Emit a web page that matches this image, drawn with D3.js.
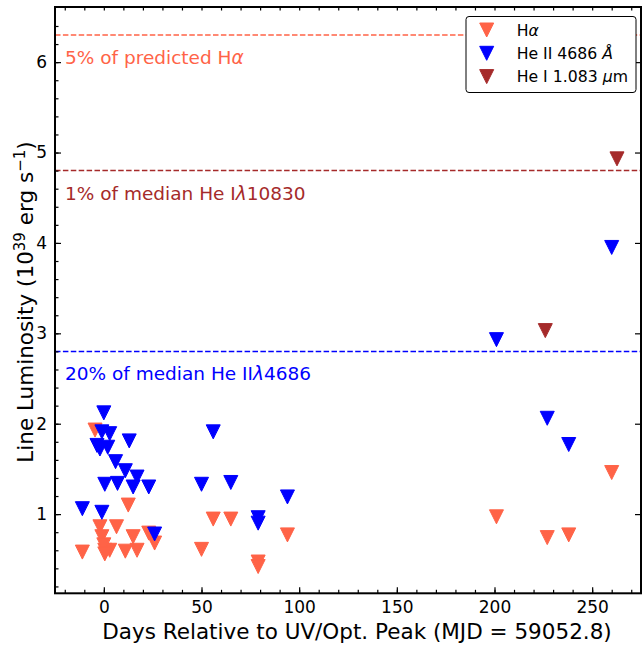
<!DOCTYPE html>
<html><head><meta charset="utf-8">
<script src="https://cdn.jsdelivr.net/npm/d3@7"></script>
<style>body{margin:0;background:#fff;} svg{display:block;font-family:"DejaVu Sans";}</style>
</head><body>
<svg id="c" width="642" height="645"></svg>
<script>
// Data
const haDays = [-4.5, 12.5, -2, 6.5, -1, 15, 23, 26, -11, 0.5, 3, 11, 17, 0, 0.5, 56, 65, 50, 79, 79, 94, 201, 227, 238, 260];
const haLum  = [1.93, 1.10, 0.86, 0.86, 0.75, 0.75, 0.79, 0.68, 0.58, 0.60, 0.60, 0.59, 0.60, 0.66, 0.56, 0.945, 0.945, 0.61, 0.47, 0.42, 0.77, 0.97, 0.74, 0.77, 1.46];
const he2Days = [0, -1, 3, 13, -3.5, 2, -2, 6, 11, 17, 0.5, 7, 15, 23, -11, -1, 26, 56, 50, 65, 94, 79, 79, 201, 227, 238, 260];
const he2Lum  = [2.12, 1.91, 1.89, 1.81, 1.76, 1.74, 1.72, 1.58, 1.48, 1.41, 1.33, 1.34, 1.30, 1.30, 1.06, 1.02, 0.78, 1.91, 1.33, 1.35, 1.19, 0.96, 0.90, 2.93, 2.06, 1.77, 3.95];
const he1Days = [226, 262.7];
const he1Lum  = [3.03, 4.93];
const refLines = [6.30, 4.80, 2.80];
const xTicks = [0, 50, 100, 150, 200, 250];
const yTicks = [1, 2, 3, 4, 5, 6];
const colors = {ha: "#FF6347", he2: "#0000FF", he1: "#A52A2A"};

const svg = d3.select("#c");
const L = 55, R = 641, T = 7, B = 593.3;
const x = d3.scaleLinear().domain([-25, 275]).range([L, R]);
const y = d3.scaleLinear().domain([0.124, 6.61]).range([B, T]);

// reference lines
const refCols = [colors.ha, colors.he1, colors.he2];
refLines.forEach((v, i) => {
  svg.append("line").attr("x1", L).attr("x2", R).attr("y1", y(v)).attr("y2", y(v))
    .attr("stroke", refCols[i]).attr("stroke-width", 1.5).attr("stroke-dasharray", "5.5,2.4");
});
// reference labels
const lab = [
  {t: "5% of predicted H", it: "α", tail: ""},
  {t: "1% of median He I", it: "λ", tail: "10830"},
  {t: "20% of median He II", it: "λ", tail: "4686"}
];
lab.forEach((o, i) => {
  const tx = svg.append("text").attr("x", 65).attr("y", y(refLines[i]) + 29)
    .attr("fill", refCols[i]).attr("font-size", 18.5);
  tx.append("tspan").text(o.t);
  tx.append("tspan").attr("font-style", "italic").text(o.it);
  if (o.tail) tx.append("tspan").text(o.tail);
});

// markers
const tri = d3.symbol().type({draw(ctx, s){ const h = 7; ctx.moveTo(-h, -h); ctx.lineTo(h, -h); ctx.lineTo(0, h); ctx.closePath(); }});
function drawSeries(xs, ys, col) {
  svg.append("g").selectAll("path").data(xs.map((d, i) => [d, ys[i]])).join("path")
    .attr("d", tri()).attr("transform", d => `translate(${x(d[0])},${y(d[1])})`)
    .attr("fill", col).attr("stroke", col).attr("stroke-width", 1);
}
drawSeries(haDays, haLum, colors.ha);
drawSeries(he2Days, he2Lum, colors.he2);
drawSeries(he1Days, he1Lum, colors.he1);

// axes
const ax = svg.append("g");
const bottom = d3.axisBottom(x).tickValues(xTicks).tickSize(-6).tickPadding(8).tickFormat(d3.format("d"));
ax.append("g").attr("transform", `translate(0,${B})`).call(bottom);
const bottomMinor = d3.axisBottom(x).tickValues(d3.range(-20, 275, 10)).tickSize(-3.5).tickFormat("");
ax.append("g").attr("transform", `translate(0,${B})`).call(bottomMinor);
const topMinor = d3.axisTop(x).tickValues(d3.range(-20, 275, 10)).tickSize(-3.5).tickFormat("");
ax.append("g").attr("transform", `translate(0,${T})`).call(topMinor);
const left = d3.axisLeft(y).tickValues(yTicks).tickSize(-6).tickPadding(8).tickFormat(d3.format("d"));
ax.append("g").attr("transform", `translate(${L},0)`).call(left);
const leftMinor = d3.axisLeft(y).tickValues(d3.range(0.2, 6.6, 0.2)).tickSize(-3.5).tickFormat("");
ax.append("g").attr("transform", `translate(${L},0)`).call(leftMinor);
const right = d3.axisRight(y).tickValues(yTicks).tickSize(-6).tickFormat("");
ax.append("g").attr("transform", `translate(${R},0)`).call(right);
ax.selectAll(".domain").remove();
ax.selectAll(".tick line").attr("stroke", "#000").attr("stroke-width", 1.2);
ax.selectAll(".tick text").attr("fill", "#000").attr("font-family", "DejaVu Sans").attr("font-size", 17);
svg.append("rect").attr("x", L).attr("y", T).attr("width", R - L).attr("height", B - T)
  .attr("fill", "none").attr("stroke", "#000").attr("stroke-width", 2);

// axis labels
svg.append("text").attr("x", 357).attr("y", 639).attr("text-anchor", "middle").attr("font-size", 21.5)
  .text("Days Relative to UV/Opt. Peak (MJD = 59052.8)");
const yl = svg.append("text").attr("transform", "translate(33,302) rotate(-90)").attr("text-anchor", "middle").attr("font-size", 21.5);
yl.append("tspan").text("Line Luminosity (10");
yl.append("tspan").attr("dy", -8).attr("font-size", 15).text("39");
yl.append("tspan").attr("dy", 8).text(" erg s");
yl.append("tspan").attr("dy", -8).attr("font-size", 15).text("−1");
yl.append("tspan").attr("dy", 8).text(")");

// legend
const lg = svg.append("g");
lg.append("rect").attr("x", 466).attr("y", 16.5).attr("width", 170).attr("height", 76).attr("rx", 3)
  .attr("fill", "#fff").attr("stroke", "#000").attr("stroke-width", 1);
const legItems = [
  {c: colors.ha, parts: [["H", ""], ["α", "italic"]]},
  {c: colors.he2, parts: [["He II 4686 ", ""], ["Å", "italic"]]},
  {c: colors.he1, parts: [["He I 1.083 ", ""], ["μ", "italic"], ["m", ""]]}
];
legItems.forEach((o, i) => {
  const cy = 30 + i * 23.3;
  lg.append("path").attr("d", tri()).attr("transform", `translate(486.7,${cy})`).attr("fill", o.c).attr("stroke", o.c);
  const t = lg.append("text").attr("x", 516.7).attr("y", cy + 5.5).attr("font-size", 15.7);
  o.parts.forEach(p => t.append("tspan").attr("font-style", p[1] || null).text(p[0]));
});
</script>
</body></html>
